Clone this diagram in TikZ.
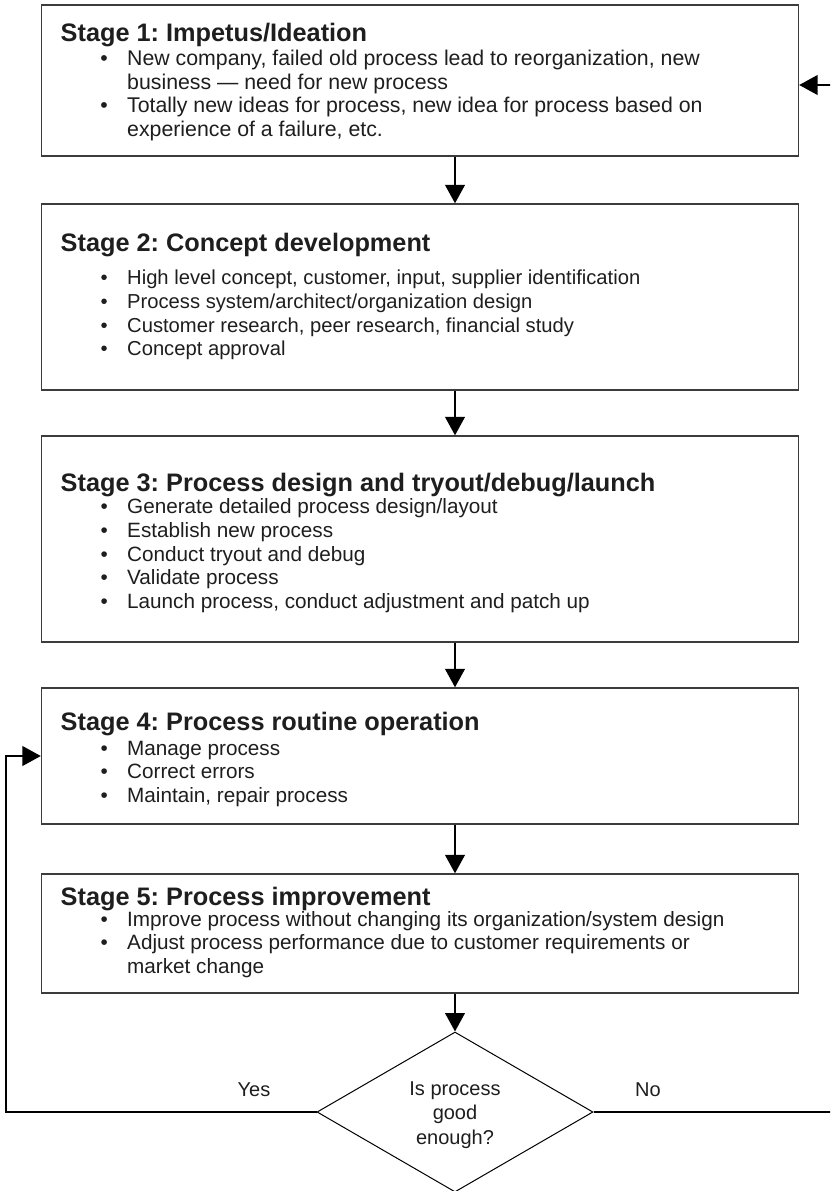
\documentclass[tikz,border=0pt]{standalone}
\usepackage{fontspec}
\setmainfont{Liberation Sans}
\usetikzlibrary{arrows.meta,shapes.geometric}
\frenchspacing

% fonts: stage headings and bullet lines
\newcommand\hfont{\fontsize{25.3}{30}\bfseries\selectfont}
\newcommand\isize{20.7pt}
\newcommand\ifont{\fontsize{\isize}{23.8}\selectfont}
% one bullet line, and a continuation line of the same item
\newcommand\bul[1]{\hspace*{43.5pt}\makebox[0pt]{\textbullet}\hspace*{23pt}#1\par}
\newcommand\cont[1]{\hspace*{66.5pt}#1\par}
% heading + items; #1 = distance from heading baseline to first item baseline
\newcommand\stagetext[3]{\parbox[t]{740pt}{\parindent0pt\parskip0pt
  {\hfont #2\par}\vspace{\dimexpr#1-23.8pt\relax}\ifont #3}}

\definecolor{boxline}{HTML}{3C3C3C}
\definecolor{ink}{HTML}{1E1E1E}

\tikzset{
  stagebox/.style={draw=boxline, line width=1.3pt, rectangle,
    minimum width=757pt, inner sep=0pt},
  stagetxt/.style={anchor=base west, inner sep=0pt, text=ink},
  conn/.style={draw=black, line width=2.6pt},
  flow/.style={conn, -{Triangle[width=19.5pt,length=18.5pt]}},
  decision/.style={diamond, draw=black, line width=1pt, inner sep=0pt,
    minimum width=276pt, minimum height=160pt},
  question/.style={align=center, inner sep=0pt,
    font=\fontsize{20}{24.3}\selectfont, text=ink},
  answer/.style={font=\fontsize{20}{24}\selectfont, text=ink, inner sep=0pt}
}

\begin{document}
\begin{tikzpicture}[x=1pt,y=-1pt]
\useasboundingbox (0,0) rectangle (830,1191);
\clip (0,0) rectangle (830,1191);
\fill[white] (0,0) rectangle (830,1191);

% stage frames
\node[stagebox, minimum height=151pt] (s1) at (420,80.5) {};
\node[stagebox, minimum height=186pt] (s2) at (420,297) {};
\node[stagebox, minimum height=206pt] (s3) at (420,539) {};
\node[stagebox, minimum height=136pt] (s4) at (420,756) {};
\node[stagebox, minimum height=119pt] (s5) at (420,933.5) {};

% stage contents
\node[stagetxt] (t1) at (60.5,41.7) {\renewcommand\isize{21.3pt}%
  \stagetext{23.5pt}{Stage 1: Impetus/Ideation}{%
  \bul{New company, failed old process lead to reorganization, new}
  \cont{business — need for new process}
  \bul{Totally new ideas for process, new idea for process based on}
  \cont{experience of a failure, etc.}}};
\node[stagetxt] (t2) at (60.5,251) {\renewcommand\isize{20.2pt}%
  \stagetext{33.5pt}{Stage 2: Concept development}{%
  \bul{High level concept, customer, input, supplier identification}
  \bul{Process system/architect/organization design}
  \bul{Customer research, peer research, financial study}
  \bul{Concept approval}}};
\node[stagetxt] (t3) at (60.5,491) {\stagetext{22.5pt}{Stage 3: Process design and tryout/debug/launch}{%
  \bul{Generate detailed process design/layout}
  \bul{Establish new process}
  \bul{Conduct tryout and debug}
  \bul{Validate process}
  \bul{Launch process, conduct adjustment and patch up}}};
\node[stagetxt] (t4) at (60.5,730) {\stagetext{25pt}{Stage 4: Process routine operation}{%
  \bul{Manage process}
  \bul{Correct errors}
  \bul{Maintain, repair process}}};
\node[stagetxt] (t5) at (60.5,905) {\stagetext{21pt}{Stage 5: Process improvement}{%
  \bul{Improve process without changing its organization/system design}
  \bul{Adjust process performance due to customer requirements or}
  \cont{market change}}};

% decision
\node[decision] (d) at (455,1112) {};
\node[question] (q) at (455,1115) {Is process\\good\\enough?};
\node[answer] (yes) at (254,1090) {Yes};
\node[answer] (no) at (648,1090) {No};

% loop-back corners
\coordinate (lx) at (6,0);
\coordinate (rx) at (845,85);

% main flow
\draw[flow] (s1.south -| d.north) -- (s2.north -| d.north);
\draw[flow] (s2.south -| d.north) -- (s3.north -| d.north);
\draw[flow] (s3.south -| d.north) -- (s4.north -| d.north);
\draw[flow] (s4.south -| d.north) -- (s5.north -| d.north);
\draw[flow] (s5.south -| d.north) -- (d.north);

% yes: back to routine operation
\draw[flow] (d.west) -- (lx |- d.west) -- (lx |- s4.west) -- (s4.west);
% no: back to ideation
\draw[flow] (d.east) -- (rx |- d.east) -- (rx) -- (rx -| s1.east);
\end{tikzpicture}
\end{document}
